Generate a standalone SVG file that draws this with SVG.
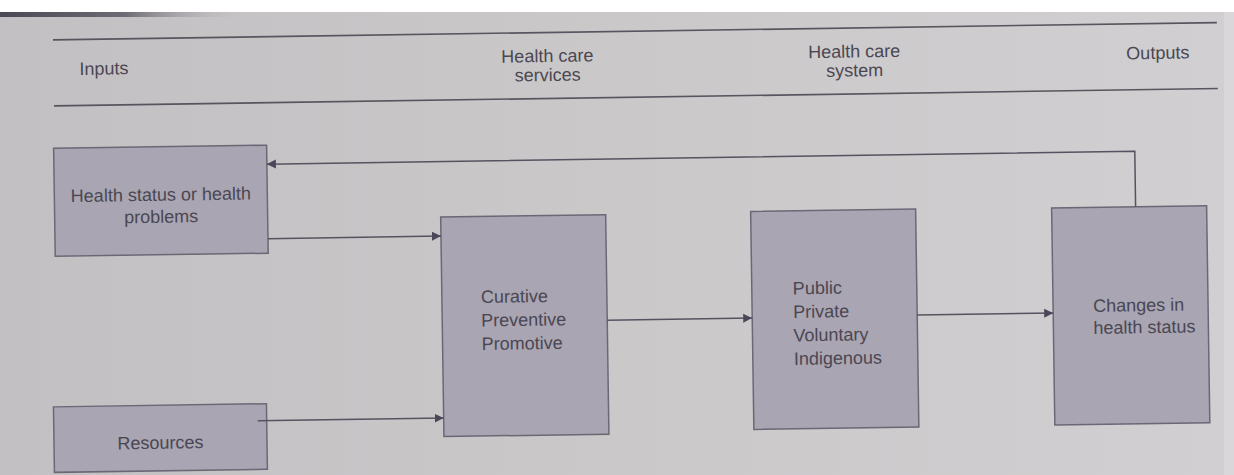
<svg xmlns="http://www.w3.org/2000/svg" width="1234" height="475" viewBox="0 0 1234 475">
<style>
.box{fill:#a9a5b3;stroke:#6b6876;stroke-width:1.5}
.t{font-family:"Liberation Sans",Arial,sans-serif;font-size:18px;fill:#4a4752}
.c{text-anchor:middle}
.rule{stroke:#57555e;stroke-width:1.6;fill:none}
.conn{stroke:#55535f;stroke-width:1.5;fill:none}
</style>
<defs>
<linearGradient id="page" x1="0" y1="0" x2="1" y2="0">
<stop offset="0" stop-color="#c3c0c3"/>
<stop offset="0.5" stop-color="#cbc8ca"/>
<stop offset="1" stop-color="#d1cfd1"/>
</linearGradient>
<linearGradient id="edge" x1="0" y1="0" x2="1" y2="0">
<stop offset="0" stop-color="#4a4954"/>
<stop offset="0.5" stop-color="#6d6b73"/>
<stop offset="1" stop-color="#c8c5c8" stop-opacity="0"/>
</linearGradient>
<marker id="ah" viewBox="0 0 10 10" refX="10" refY="5" markerWidth="9" markerHeight="10" markerUnits="userSpaceOnUse" orient="auto">
<path d="M0,0 L10,5 L0,10 z" fill="#4a4858"/>
</marker>
</defs>
<rect x="0" y="0" width="1234" height="475" fill="url(#page)"/>
<rect x="0" y="0" width="1234" height="12" fill="#ffffff"/>
<rect x="0" y="12" width="250" height="5" fill="url(#edge)"/>
<rect x="1224" y="12" width="10" height="463" fill="#d9d7da"/>
<g transform="rotate(-0.85 617 237)">
<g id="header">
<line class="rule" x1="56" y1="31.5" x2="1220" y2="31.5"/>
<line class="rule" x1="56" y1="97.5" x2="1220" y2="97.5"/>
<text class="t" x="82" y="67">Inputs</text>
<text class="t c" x="550" y="61">Health care</text>
<text class="t c" x="550" y="80">services</text>
<text class="t c" x="857" y="61">Health care</text>
<text class="t c" x="857" y="80">system</text>
<text class="t" x="1192" y="67" text-anchor="end">Outputs</text>
</g>
<g id="health-status">
<rect class="box" x="55" y="140" width="213" height="108"/>
<text class="t c" x="161.5" y="194">Health status or health</text>
<text class="t c" x="161.5" y="216">problems</text>
</g>
<g id="resources">
<rect class="box" x="51" y="398.5" width="213" height="65.5"/>
<text class="t c" x="157.5" y="442">Resources</text>
</g>
<g id="services">
<rect class="box" x="441" y="214.5" width="165" height="219.5"/>
<text class="t" x="480" y="301">Curative</text>
<text class="t" x="480" y="324.5">Preventive</text>
<text class="t" x="480" y="348">Promotive</text>
</g>
<g id="system">
<rect class="box" x="751" y="213.5" width="165" height="218"/>
<text class="t" x="792" y="297">Public</text>
<text class="t" x="792" y="320.5">Private</text>
<text class="t" x="792" y="344">Voluntary</text>
<text class="t" x="792" y="367.5">Indigenous</text>
</g>
<g id="outputs">
<rect class="box" x="1052" y="214.5" width="155" height="217"/>
<text class="t" x="1092" y="319">Changes in</text>
<text class="t" x="1092" y="341">health status</text>
</g>
<g id="connectors">
<path class="conn" d="M268,233.5 H441" marker-end="url(#ah)"/>
<path class="conn" d="M255,415.5 H441" marker-end="url(#ah)"/>
<path class="conn" d="M606,320 H751" marker-end="url(#ah)"/>
<path class="conn" d="M916,319.5 H1052" marker-end="url(#ah)"/>
<path class="conn" d="M1136,214.5 V159 H268" marker-end="url(#ah)"/>
</g>
</g>
</svg>
